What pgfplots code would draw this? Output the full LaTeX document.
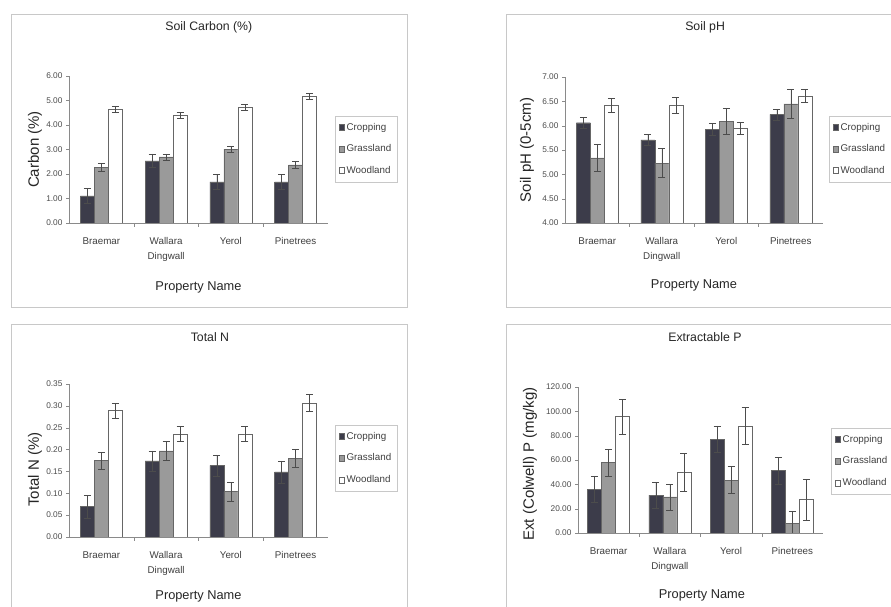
\documentclass[border=0pt]{standalone}
\usepackage{pgfplots}
\pgfplotsset{compat=1.18}
\usepackage{fontspec}
\setmainfont{Liberation Sans}
\definecolor{cropc}{HTML}{3C3C4A}
\definecolor{grassc}{HTML}{9A9A9A}
\definecolor{framec}{HTML}{C8C8C8}
\definecolor{axc}{HTML}{8A8A8A}
\pgfplotsset{
  panel/.style={
    scale only axis,
    ybar=0pt, bar width=14pt,
    xmin=-0.5, xmax=3.5,
    xtick={0,1,2,3},
    xticklabels={Braemar,{Wallara\\Dingwall},Yerol,Pinetrees},
    xticklabel style={align=center, font=\fontsize{9.8}{15}\selectfont, text=black!75, yshift=-8pt},
    major x tick style={draw=none},
    minor xtick={0.5,1.5,2.5},
    minor x tick style={draw=axc},
    minor tick length=4pt, major tick length=3pt,
    tick align=outside,
    axis x line*=bottom, axis y line*=left,
    axis line style={draw=axc,-},
    y tick style={draw=axc},
    yticklabel style={font=\fontsize{8.3}{9}\selectfont, text=black!70,
      /pgf/number format/.cd, fixed, fixed zerofill, precision=2, assume math mode=true},
    ylabel style={font=\fontsize{15}{16}\selectfont, text=black!85},
    xlabel style={font=\fontsize{12.8}{14}\selectfont, text=black!85},
    title style={font=\fontsize{12.3}{14}\selectfont, text=black!85},
    legend style={draw=framec, font=\fontsize{9.8}{11}\selectfont, text=black!75,
      anchor=north west, row sep=9pt, inner xsep=4pt, inner ysep=5pt},
    legend cell align=left,
    legend image code/.code={\draw[##1] (0pt,-3pt) rectangle (5pt,3pt);},
  },
  eb/.style={
    /pgfplots/error bars/y dir=both,
    /pgfplots/error bars/y explicit,
    /pgfplots/error bars/error bar style={draw=black!70, line width=0.5pt},
    /pgfplots/error bars/error mark options={rotate=90, mark size=3.5pt, draw=black!70, line width=0.5pt},
  },
  crop/.style={fill=cropc, draw=black!60, line width=0.4pt, eb},
  grass/.style={fill=grassc, draw=black!60, line width=0.4pt, eb},
  wood/.style={fill=white, draw=black!60, line width=0.4pt, eb},
}
\begin{document}
\begin{tikzpicture}[x=1pt,y=1pt]
\useasboundingbox (0,0) rectangle (891,607);
\clip (0,0) rectangle (891,607);
\fill[white] (0,0) rectangle (891,607);
\draw[framec, line width=0.8pt] (11,300) rectangle (407,593);
\draw[framec, line width=0.8pt] (506,300) rectangle (900,593);
\draw[framec, line width=0.8pt] (11,-10) rectangle (407,283);
\draw[framec, line width=0.8pt] (506,-10) rectangle (900,283);

% Panel 1: Soil Carbon
\begin{axis}[panel, at={(69pt,384pt)}, anchor=south west, width=259pt, height=147pt,
  ymin=0, ymax=6, ytick={0,1,2,3,4,5,6},
  title={Soil Carbon (\%)}, title style={at={(axis description cs:0.54,1.293)}, anchor=center},
  ylabel={Carbon (\%)}, ylabel style={at={(axis description cs:-0.131,0.5)}, anchor=center, rotate=0},
  xlabel={Property Name}, xlabel style={at={(axis description cs:0.5,-0.435)}, anchor=center},
  legend style={at={(axis description cs:1.027,0.728)}}]
\addplot[crop] coordinates {(0,1.11) +- (0,0.31) (1,2.54) +- (0,0.28) (2,1.68) +- (0,0.30) (3,1.68) +- (0,0.30)};
\addplot[grass] coordinates {(0,2.27) +- (0,0.17) (1,2.70) +- (0,0.12) (2,3.01) +- (0,0.14) (3,2.37) +- (0,0.15)};
\addplot[wood] coordinates {(0,4.65) +- (0,0.12) (1,4.41) +- (0,0.13) (2,4.72) +- (0,0.12) (3,5.17) +- (0,0.13)};
\legend{Cropping,Grassland,Woodland}
\end{axis}

% Panel 2: Soil pH
\begin{axis}[panel, at={(565pt,384pt)}, anchor=south west, width=258pt, height=146pt,
  ymin=4, ymax=7, ytick={4,4.5,5,5.5,6,6.5,7},
  title={Soil pH}, title style={at={(axis description cs:0.543,1.30)}, anchor=center},
  ylabel={Soil pH (0-5cm)}, ylabel style={at={(axis description cs:-0.147,0.5)}, anchor=center, rotate=0},
  xlabel={Property Name}, xlabel style={at={(axis description cs:0.5,-0.425)}, anchor=center},
  legend style={at={(axis description cs:1.023,0.733)}}]
\addplot[crop] coordinates {(0,6.06) +- (0,0.11) (1,5.71) +- (0,0.11) (2,5.93) +- (0,0.12) (3,6.23) +- (0,0.11)};
\addplot[grass] coordinates {(0,5.34) +- (0,0.28) (1,5.23) +- (0,0.30) (2,6.09) +- (0,0.27) (3,6.45) +- (0,0.29)};
\addplot[wood] coordinates {(0,6.42) +- (0,0.15) (1,6.42) +- (0,0.16) (2,5.95) +- (0,0.12) (3,6.61) +- (0,0.13)};
\legend{Cropping,Grassland,Woodland}
\end{axis}

% Panel 3: Total N
\begin{axis}[panel, at={(69pt,70pt)}, anchor=south west, width=259pt, height=153pt,
  ymin=0, ymax=0.35, ytick={0,0.05,0.10,0.15,0.20,0.25,0.30,0.35},
  title={Total N}, title style={at={(axis description cs:0.544,1.268)}, anchor=center},
  ylabel={Total N (\%)}, ylabel style={at={(axis description cs:-0.131,0.44)}, anchor=center, rotate=0},
  xlabel={Property Name}, xlabel style={at={(axis description cs:0.5,-0.39)}, anchor=center},
  legend style={at={(axis description cs:1.027,0.732)}}]
\addplot[crop] coordinates {(0,0.070) +- (0,0.026) (1,0.174) +- (0,0.023) (2,0.164) +- (0,0.024) (3,0.149) +- (0,0.025)};
\addplot[grass] coordinates {(0,0.175) +- (0,0.019) (1,0.197) +- (0,0.021) (2,0.104) +- (0,0.022) (3,0.180) +- (0,0.021)};
\addplot[wood] coordinates {(0,0.289) +- (0,0.018) (1,0.236) +- (0,0.017) (2,0.236) +- (0,0.017) (3,0.307) +- (0,0.019)};
\legend{Cropping,Grassland,Woodland}
\end{axis}

% Panel 4: Extractable P
\begin{axis}[panel, at={(578pt,74pt)}, anchor=south west, width=245pt, height=146pt,
  ymin=0, ymax=120, ytick={0,20,40,60,80,100,120},
  title={Extractable P}, title style={at={(axis description cs:0.518,1.30)}, anchor=center},
  ylabel={Ext (Colwell) P (mg/kg)}, ylabel style={at={(axis description cs:-0.196,0.473)}, anchor=center, rotate=0},
  xlabel={Property Name}, xlabel style={at={(axis description cs:0.506,-0.43)}, anchor=center},
  legend style={at={(axis description cs:1.033,0.719)}}]
\addplot[crop] coordinates {(0,36.0) +- (0,11) (1,31.1) +- (0,10.7) (2,77.0) +- (0,11) (3,51.4) +- (0,11)};
\addplot[grass] coordinates {(0,57.8) +- (0,11) (1,29.7) +- (0,10.7) (2,43.5) +- (0,11) (3,7.7) +- (0,10)};
\addplot[wood] coordinates {(0,95.7) +- (0,14.3) (1,49.8) +- (0,15.7) (2,88.0) +- (0,15.4) (3,27.5) +- (0,16.8)};
\legend{Cropping,Grassland,Woodland}
\end{axis}
\end{tikzpicture}
\end{document}
